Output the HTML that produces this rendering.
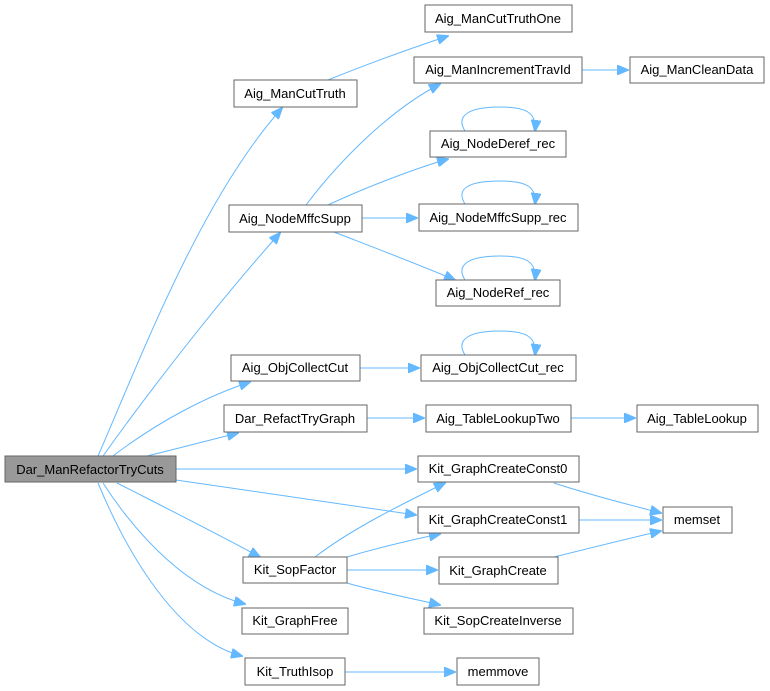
<!DOCTYPE html>
<html><head><meta charset="utf-8"><style>
html,body{margin:0;padding:0;background:#fff}
svg{display:block}
text{font-family:"Liberation Sans",Arial,sans-serif;font-size:13px;fill:#000;text-anchor:middle}
.n{fill:#fff;stroke:#666;stroke-width:1}
.e{fill:none;stroke:#63b8ff;stroke-width:1}
.a{fill:#63b8ff;stroke:#63b8ff}
</style></head><body>
<svg width="770" height="691" viewBox="0 0 770 691" xmlns="http://www.w3.org/2000/svg">
<defs><marker id="m" markerWidth="12" markerHeight="10" refX="11" refY="5" orient="auto" markerUnits="userSpaceOnUse"><path d="M0,0 L12,5 L0,10 Z" class="a"/></marker></defs>
<g>
<path class="e" marker-end="url(#m)" d="M98,456 C140,360 200,200 282,108"/>
<path class="e" marker-end="url(#m)" d="M103,456 C150,390 220,300 280,233"/>
<path class="e" marker-end="url(#m)" d="M113,456 C160,420 210,395 250,382"/>
<path class="e" marker-end="url(#m)" d="M147,456 C180,448 210,440 238,433"/>
<path class="e" marker-end="url(#m)" d="M176,469 L416,469"/>
<path class="e" marker-end="url(#m)" d="M176,480 L416,515"/>
<path class="e" marker-end="url(#m)" d="M117,483 C170,510 210,530 260,557"/>
<path class="e" marker-end="url(#m)" d="M103,483 C140,540 190,590 245,604"/>
<path class="e" marker-end="url(#m)" d="M98,483 C130,560 180,640 242,656"/>
<path class="e" marker-end="url(#m)" d="M328,80 C360,67 400,52 448,36"/>
<path class="e" marker-end="url(#m)" d="M306,205 C340,160 390,110 440,84"/>
<path class="e" marker-end="url(#m)" d="M328,205 C360,190 410,170 448,159"/>
<path class="e" marker-end="url(#m)" d="M362,218 L417,218"/>
<path class="e" marker-end="url(#m)" d="M334,232 C370,246 420,265 455,280"/>
<path class="e" marker-end="url(#m)" d="M360,368 L419,368"/>
<path class="e" marker-end="url(#m)" d="M367,418 L424,418"/>
<path class="e" marker-end="url(#m)" d="M582,70 L628,70"/>
<path class="e" marker-end="url(#m)" d="M571,418 L635,418"/>
<path class="e" marker-end="url(#m)" d="M315,557 C350,530 400,505 445,483"/>
<path class="e" marker-end="url(#m)" d="M347,557 C370,550 410,540 440,534"/>
<path class="e" marker-end="url(#m)" d="M347,570 L437,570"/>
<path class="e" marker-end="url(#m)" d="M347,583 C370,590 410,598 440,605"/>
<path class="e" marker-end="url(#m)" d="M345,672 L455,672"/>
<path class="e" marker-end="url(#m)" d="M554,483 C590,495 630,505 661,513"/>
<path class="e" marker-end="url(#m)" d="M579,520 L661,520"/>
<path class="e" marker-end="url(#m)" d="M554,557 C590,548 630,538 661,531"/>
<path class="e" marker-end="url(#m)" d="M465,131 C455,115 470,107 500,107 C525,107 537,112 535,131"/>
<path class="e" marker-end="url(#m)" d="M465,204 C455,188 470,181 500,181 C525,181 537,186 535,204"/>
<path class="e" marker-end="url(#m)" d="M465,280 C455,264 470,256 500,256 C525,256 537,261 535,280"/>
<path class="e" marker-end="url(#m)" d="M465,355 C455,339 470,331 500,331 C525,331 537,336 535,355"/>
</g>
<g>
<rect x="5" y="456" width="171" height="26" style="fill:#999;stroke:#666"/><text x="90" y="474">Dar_ManRefactorTryCuts</text>
<rect class="n" x="234" y="80" width="123" height="27"/><text x="295" y="98">Aig_ManCutTruth</text>
<rect class="n" x="229" y="205" width="133" height="27"/><text x="295" y="223">Aig_NodeMffcSupp</text>
<rect class="n" x="231" y="355" width="129" height="26"/><text x="295" y="372">Aig_ObjCollectCut</text>
<rect class="n" x="224" y="405" width="143" height="27"/><text x="295" y="423">Dar_RefactTryGraph</text>
<rect class="n" x="243" y="557" width="104" height="26"/><text x="295" y="574">Kit_SopFactor</text>
<rect class="n" x="242" y="608" width="106" height="26"/><text x="295" y="625">Kit_GraphFree</text>
<rect class="n" x="245" y="658" width="100" height="27"/><text x="295" y="676">Kit_TruthIsop</text>
<rect class="n" x="425" y="5" width="147" height="27"/><text x="498" y="23">Aig_ManCutTruthOne</text>
<rect class="n" x="414" y="57" width="168" height="26"/><text x="498" y="74">Aig_ManIncrementTravId</text>
<rect class="n" x="630" y="57" width="134" height="26"/><text x="697" y="74">Aig_ManCleanData</text>
<rect class="n" x="430" y="131" width="136" height="26"/><text x="498" y="148">Aig_NodeDeref_rec</text>
<rect class="n" x="419" y="204" width="159" height="27"/><text x="498" y="222">Aig_NodeMffcSupp_rec</text>
<rect class="n" x="436" y="280" width="124" height="26"/><text x="498" y="297">Aig_NodeRef_rec</text>
<rect class="n" x="421" y="355" width="155" height="26"/><text x="498" y="372">Aig_ObjCollectCut_rec</text>
<rect class="n" x="426" y="405" width="145" height="27"/><text x="498" y="423">Aig_TableLookupTwo</text>
<rect class="n" x="637" y="405" width="121" height="27"/><text x="697" y="423">Aig_TableLookup</text>
<rect class="n" x="418" y="456" width="161" height="26"/><text x="498" y="473">Kit_GraphCreateConst0</text>
<rect class="n" x="418" y="507" width="161" height="26"/><text x="498" y="524">Kit_GraphCreateConst1</text>
<rect class="n" x="663" y="507" width="69" height="26"/><text x="697" y="524">memset</text>
<rect class="n" x="439" y="557" width="119" height="27"/><text x="498" y="575">Kit_GraphCreate</text>
<rect class="n" x="424" y="608" width="149" height="26"/><text x="498" y="625">Kit_SopCreateInverse</text>
<rect class="n" x="457" y="658" width="82" height="27"/><text x="498" y="676">memmove</text>
</g>
</svg>
</body></html>
